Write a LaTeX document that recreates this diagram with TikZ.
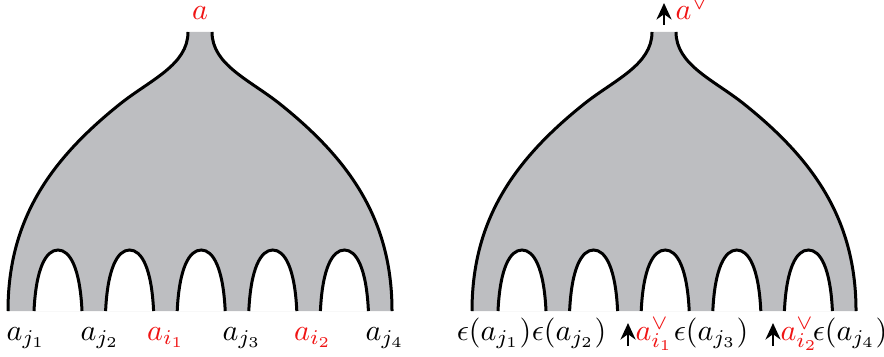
\documentclass[tikz,border=0pt]{standalone}
\usetikzlibrary{arrows.meta}
\definecolor{combgray}{RGB}{189,190,193}
\definecolor{labred}{RGB}{240,20,20}
\tikzset{
  outline/.style={line width=1pt, black},
  lab/.style={anchor=base, inner sep=0pt},
  labw/.style={anchor=base west, inner sep=0pt},
  uparrow/.style={line width=0.9pt, -{Stealth[length=5.5pt,width=5pt]}},
}
\newcommand\mycomb{%
  \fill[combgray] (8,311) .. controls (8,220) and (50,160) .. (120,104)
     .. controls (150,80) and (188,65) .. (188,32) -- (212,32)
     .. controls (212,65) and (250,80) .. (280,104)
     .. controls (350,160) and (392,220) .. (392,311) -- cycle;
  \foreach \c in {58,129.6,201.2,272.8,344.4} {
    \fill[white] (\c-24,311) .. controls (\c-22,268) and (\c-12,250) .. (\c,250)
       .. controls (\c+12,250) and (\c+22,268) .. (\c+24,311) -- cycle;
    \draw[outline] (\c-24,311) .. controls (\c-22,268) and (\c-12,250) .. (\c,250)
       .. controls (\c+12,250) and (\c+22,268) .. (\c+24,311);
  }
  \draw[outline] (8,311) .. controls (8,220) and (50,160) .. (120,104)
     .. controls (150,80) and (188,65) .. (188,32);
  \draw[outline] (212,32) .. controls (212,65) and (250,80) .. (280,104)
     .. controls (350,160) and (392,220) .. (392,311);
}
\begin{document}
\begin{tikzpicture}[x=0.3333pt,y=-0.3333pt]
\useasboundingbox (0,0) rectangle (884,356);
\mycomb
\begin{scope}[shift={(464,0)}]
\mycomb
\end{scope}
% left labels
\node[lab, text=labred] (top) at (200,20) {$a$};
\node[lab] (lj1) at (26,340) {$a_{j_1}$};
\node[lab] (lj2) at (100,340) {$a_{j_2}$};
\node[lab, text=labred] (li1) at (166,340) {$a_{i_1}$};
\node[lab] (lj3) at (242,340) {$a_{j_3}$};
\node[lab, text=labred] (li2) at (313,340) {$a_{i_2}$};
\node[lab] (lj4) at (385,340) {$a_{j_4}$};
% right labels
\coordinate (ta0) at (664,25);
\coordinate (ta1) at (664,3);
\draw[uparrow] (ta0) -- (ta1);
\node[labw, text=labred] (rtop) at (675,20) {$a^\vee$};
\node[lab] (rj1) at (494,340) {$\epsilon(a_{j_1})$};
\node[lab] (rj2) at (569,340) {$\epsilon(a_{j_2})$};
\coordinate (b1a) at (628,346);
\coordinate (b1b) at (628,323);
\draw[uparrow] (b1a) -- (b1b);
\node[labw, text=labred] (ri1) at (635,340) {$a_{i_1}^\vee$};
\node[lab] (rj3) at (711,340) {$\epsilon(a_{j_3})$};
\coordinate (b2a) at (773,346);
\coordinate (b2b) at (773,323);
\draw[uparrow] (b2a) -- (b2b);
\node[labw, text=labred] (ri2) at (780,340) {$a_{i_2}^\vee$};
\node[lab] (rj4) at (850,340) {$\epsilon(a_{j_4})$};
\end{tikzpicture}
\end{document}
